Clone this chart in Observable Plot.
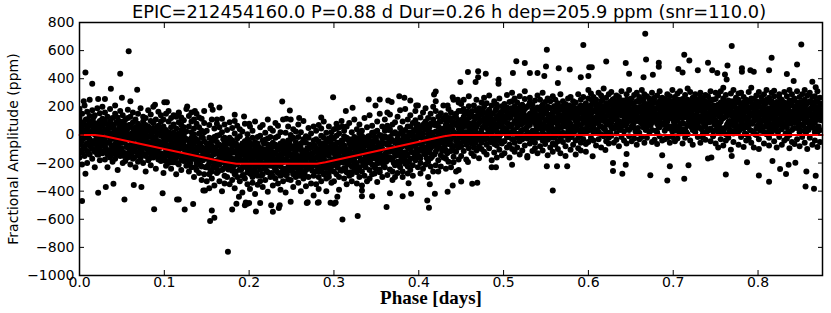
<!DOCTYPE html>
<html><head><meta charset="utf-8">
<script src="https://cdn.jsdelivr.net/npm/d3@7"></script>
<script src="https://cdn.jsdelivr.net/npm/@observablehq/plot@0.6"></script>
<style>body{margin:0;background:#fff}</style>
</head><body><div id="chart"></div>
<script>
const titleText = "EPIC=212454160.0 P=0.88 d Dur=0.26 h dep=205.9 ppm (snr=110.0)";
const xLabel = "Phase [days]";
const yLabel = "Fractional Amplitude (ppm)";
const xTicks = [0, 0.1, 0.2, 0.3, 0.4, 0.5, 0.6, 0.7, 0.8];
const yTicks = [-1000, -800, -600, -400, -200, 0, 200, 400, 600, 800];

// transit model (red line)
const modelPhase = [0, 0.018, 0.03, 0.1, 0.17, 0.185, 0.28, 0.29, 0.43, 0.44, 0.876];
const modelAmp = [0, 0, -10, -100, -190, -205, -205, -194, -10, 0, 0];

// phase-folded photometry: each row = [phase, amplitudes at that phase...]
const seg0 = [
[0,-5,120,-160,40,-70,185,-110],[0.003,60,-40,150,-125,15,-210,90],[0.006,-90,30,210,-20,-150,75,5],
[0.009,110,-60,-5,165,-200,45,-115],[0.012,-30,80,-140,20,135,-75,250],[0.015,25,-170,95,-45,60,-100,175],
[0.018,-120,5,140,-65,85,-230,35],[0.021,70,-85,-15,190,-140,15,-55],[0.024,-45,155,50,-105,-180,100,0],
[0.027,15,-130,115,-35,65,-75,200],[0.03,-80,40,-175,105,-20,160,-120],[0.033,20,-55,130,-140,-5,75,-230],
[0.036,-110,95,-40,10,185,-160,50],[0.039,55,-20,-190,120,-85,0,-135],[0.042,-65,150,-100,30,-30,210,-170],
[0.045,85,-140,15,-75,125,-45,-250],[0.048,-150,60,-10,170,-95,25,95],[0.051,0,-200,80,-55,140,-120,35],
[0.054,-40,110,-130,5,65,-15,-185],[0.057,120,-75,45,-160,-25,180,-90],[0.06,-20,-150,70,-95,130,-210,5],
[0.063,-110,45,-40,160,-170,-65,90],[0.066,25,-120,-230,55,-10,110,-75],[0.069,-85,150,-30,-140,80,-5,-190],
[0.072,60,-60,-165,15,190,-110,-25],[0.075,-135,95,-10,-200,40,-55,130],[0.078,5,-90,120,-45,-150,70,-260],
[0.081,-50,175,-120,30,-75,-180,60],[0.084,100,-15,-95,145,-215,0,-135],[0.087,-160,50,-40,-105,85,200,-70],
[0.09,20,-125,110,-20,-65,-240,35],[0.093,-95,65,165,-150,10,-45,-175],[0.096,40,-185,-5,95,-130,140,-80],
[0.099,-60,60,-180,-15,110,-140,-270],[0.102,35,-105,-40,150,-220,-75,5],[0.105,-150,0,95,-90,-30,170,-200],
[0.108,-20,-170,55,-240,120,-110,-55],[0.111,75,-85,-135,15,-10,-195,140],[0.114,-115,130,-50,-160,45,-5,-280],
[0.117,10,-60,-210,90,160,-130,-35],[0.12,-175,35,-95,-20,125,-250,70],[0.123,55,-140,0,-75,-185,105,-45],
[0.126,-90,185,-120,25,-30,-160,-220],[0.129,-40,-190,60,-110,135,-260,-75],[0.132,20,-155,-80,95,-230,-20,160],
[0.135,-125,45,-300,-60,5,-170,110],[0.138,-200,80,-35,-145,-95,150,-250],[0.141,10,-110,-270,55,-60,-180,125],
[0.144,-85,115,-150,-15,-225,30,-320],[0.147,-160,20,85,-120,-45,-280,170]
];
const seg1 = [
[0.15,-95,-230,30,-170,-330,-60,-140],[0.153,-200,-20,-280,70,-150,-110,-380],[0.156,-45,-175,-110,-260,110,-310,-80],
[0.159,-135,45,-220,-90,-360,-15,-190],[0.162,-270,-130,80,-50,-180,-240,-5],[0.165,0,-210,-155,-330,-70,55,-120],
[0.168,-185,-95,-400,20,-150,-250,115],[0.171,-60,-290,-130,-20,75,-200,-345],[0.174,-230,35,-175,-105,-300,-40,-160],
[0.177,-110,-350,-60,90,-215,-140,-20],[0.18,-40,-170,-255,-85,50,-320,-125],[0.183,-195,10,-120,-280,-65,-380,100],
[0.186,-300,-135,-25,-210,65,-100,-175],[0.189,-80,-245,40,-160,-330,-120,-10],[0.192,-230,-60,-185,-410,25,-140,-290],
[0.195,-135,-310,-45,-220,80,-95,-175],[0.198,5,-200,-350,-110,-265,-30,-160],[0.201,-275,-90,-150,60,-225,-385,-55],
[0.204,-160,30,-300,-125,-205,-20,-340],[0.207,-50,-235,-100,-420,-150,95,-260],[0.21,-210,-120,-15,-290,-60,-185,-355],
[0.213,-330,-5,-175,-95,-250,55,-140],[0.216,-100,-280,70,-210,-145,-370,-40],[0.219,-240,-165,-35,-320,15,-115,-200],
[0.222,-25,-130,-265,-190,-405,-70,110],[0.225,-180,45,-110,-300,-220,-15,-145],[0.228,-295,-85,-200,30,-155,-360,-55],
[0.231,-70,-250,-130,-20,-310,-175,85],[0.234,-215,-10,-345,-105,-160,65,-270],[0.237,-140,-290,20,-225,-60,-390,-180],
[0.24,-45,-195,-120,-330,110,-240,-90],[0.243,-260,-70,-175,15,-285,-135,-410],[0.246,-115,60,-230,-150,-40,-315,-200],
[0.249,-320,-135,0,-255,-95,-185,-30],[0.252,-20,-210,-370,-80,-165,40,-280],[0.255,-190,-50,-125,-300,25,-230,-110],
[0.258,-85,-340,-210,-15,-150,-260,75],[0.261,-245,20,-95,-185,-400,-60,-165],[0.264,-130,-270,-30,100,-220,-140,-310],
[0.267,-10,-175,-250,-115,-55,-365,-200],[0.27,-300,-100,50,-230,-160,-20,-135],[0.273,-155,-240,-75,-345,10,-190,-90],
[0.276,-40,-125,-290,-180,-430,60,-215],[0.279,-220,-30,-160,-95,-260,30,-350],[0.282,-110,-300,70,-200,-145,-45,-385],
[0.285,-5,-180,-250,-120,45,-330,-75],[0.288,-280,-60,-140,-215,-20,-165,95],[0.291,-130,15,-310,-90,-235,-400,-50],
[0.294,-190,-270,-25,60,-150,-105,-300],[0.297,-60,-225,-120,-340,-15,-185,20]
];
const seg2 = [
[0.3,-260,-90,40,-180,-330,-130,-25],[0.303,-120,-220,-60,80,-280,-175,-5],[0.306,10,-150,-300,-95,-200,55,-390],
[0.309,-190,-40,-115,-255,100,-160,-70],[0.312,-75,-310,-170,-10,-235,-130,30],[0.315,-145,60,-265,-100,-20,-350,-200],
[0.318,-290,-110,-30,-190,85,-60,-160],[0.321,-35,-225,-135,-280,-80,20,-330],[0.324,-170,-15,-95,110,-250,-195,-55],
[0.327,-90,-345,-200,-45,-140,40,-265],[0.33,-230,-40,75,-150,-300,-100,10],[0.333,-60,-185,-260,30,-110,-360,-5],
[0.336,120,-130,-45,-220,-80,-290,-170],[0.339,-195,-20,-120,55,-330,-150,-70],[0.342,-10,-250,-95,-175,140,-40,-310],
[0.345,-145,65,-210,-60,-280,-115,15],[0.348,-275,-85,20,-135,-15,-230,-165],[0.351,-50,-200,-335,95,-105,-160,30],
[0.354,-180,0,-70,-245,-130,150,-265],[0.357,-100,-300,-155,-25,60,-200,-55],[0.36,30,-140,-230,-60,110,-190,-10],
[0.363,-180,-20,65,-285,-110,-70,160],[0.366,-50,145,-160,-15,-245,40,-120],[0.369,-260,-95,10,-175,75,-40,-320],
[0.372,90,-130,-215,-55,20,-300,-150],[0.375,-25,-190,130,-95,-270,5,-65],[0.378,-145,50,-40,-230,-110,175,-195],
[0.381,15,-260,-80,95,-155,-35,-300],[0.384,-205,-60,185,-125,35,-180,-10],[0.387,-90,110,-275,-20,-140,60,-225],
[0.39,60,-170,-45,140,-250,-90,15],[0.393,-125,20,-215,85,-10,-290,-70],[0.396,105,-80,30,-180,170,-130,-35],
[0.399,-20,-230,75,-60,-150,0,210],[0.402,-165,45,-100,125,-275,-15,-200],[0.405,10,-115,160,-50,70,-240,-85],
[0.408,-210,95,-25,-140,40,190,-110],[0.411,65,-60,-190,5,-300,120,-35],[0.414,-95,150,20,-165,-45,-225,80],
[0.417,-30,-140,200,-75,110,-10,-260],[0.42,80,-120,25,-215,170,-50,240],[0.423,-85,130,-20,60,-180,10,-260],
[0.426,155,-40,-145,95,0,-225,45],[0.429,-10,210,-95,-55,120,-160,20],[0.432,-170,50,140,-110,-30,75,-240],
[0.435,35,-65,-190,185,5,-120,100],[0.438,-115,115,60,-30,-230,160,-70],[0.441,90,-155,20,250,-80,-10,-195],
[0.444,-45,70,-120,10,150,-260,125],[0.447,170,-25,45,-175,95,-90,230]
];
const seg3 = [
[0.45,40,-80,170,-10,220,-150,95],[0.453,130,-45,60,250,-115,15,185],[0.456,-70,100,20,-175,155,70,-20],
[0.459,205,-5,120,-95,55,275,-40],[0.462,-130,80,165,25,-60,140,10],[0.465,90,-25,-150,210,45,-90,130],
[0.468,15,175,70,-40,250,-110,55],[0.471,-80,120,5,190,-165,85,160],[0.474,145,-55,230,35,-100,10,100],
[0.477,60,200,-120,115,0,-35,265],[0.48,-15,75,150,-140,95,225,-70],[0.483,180,-95,40,125,-30,280,20],
[0.486,-50,155,-180,65,210,5,110],[0.489,110,-20,85,240,-125,50,-65],[0.492,25,190,-75,135,70,-160,215],
[0.495,-105,60,145,-10,260,100,-40],[0.498,165,-60,20,205,-145,80,130],[0.501,50,220,-45,130,-130,175,95],
[0.504,160,-15,85,285,30,-90,195],[0.507,-70,120,10,235,145,-160,60],[0.51,240,75,-100,180,20,300,-30],
[0.513,15,150,260,-55,100,-120,205],[0.516,120,-90,55,170,-20,230,80],[0.519,-140,195,95,5,275,140,-45],
[0.522,80,-30,215,125,-110,35,165],[0.525,185,40,-75,255,110,-5,310],[0.528,-25,135,60,-150,200,90,20],
[0.531,230,-60,150,70,-10,265,115],[0.534,100,180,-115,30,140,-40,215],[0.537,-55,85,245,160,-95,15,125],
[0.54,195,5,110,-20,280,65,-130],[0.543,45,250,-80,120,175,-15,90],[0.546,140,-110,70,215,25,300,-40],
[0.549,-5,165,235,-65,105,185,50],[0.552,260,60,-35,145,0,-145,200],[0.555,75,-90,190,110,240,35,-20],
[0.558,-120,130,20,275,85,160,-60],[0.561,170,40,-70,205,120,-10,250],[0.564,10,225,95,-100,155,70,-45],
[0.567,115,-25,180,55,290,-130,140],[0.57,205,85,-50,135,15,240,100],[0.573,-80,175,60,220,-5,120,-150],
[0.576,150,-35,260,90,190,25,65],[0.579,30,130,-105,175,80,270,-15],[0.582,240,10,145,55,-70,200,120],
[0.585,-40,190,100,-140,230,65,155],[0.588,125,290,-20,110,35,-95,185],[0.591,70,-55,210,160,5,250,-110],
[0.594,180,115,40,-30,270,140,85],[0.597,-65,225,155,20,95,-120,200]
];
const seg4 = [
[0.6,120,260,30,185,-50,150,320],[0.603,210,70,145,-20,295,95,175],[0.606,-40,165,230,110,15,270,60],
[0.609,250,125,-75,200,85,35,180],[0.612,90,300,155,20,-30,215,130],[0.615,175,5,240,140,60,-90,280],
[0.618,-10,205,100,330,170,45,120],[0.621,265,80,185,-45,135,225,15],[0.624,140,-20,290,95,210,160,-60],
[0.627,55,235,120,175,-5,305,85],[0.63,195,110,-55,255,45,150,215],[0.633,10,280,165,70,230,-35,125],
[0.636,245,40,100,190,-80,270,155],[0.639,85,195,310,-15,140,60,220],[0.642,160,-40,75,240,105,185,25],
[0.645,290,130,200,-60,170,80,250],[0.648,35,215,145,100,320,-10,185],[0.651,180,60,260,135,-45,225,105],
[0.654,-25,170,90,285,150,50,205],[0.657,240,115,-70,185,30,300,140],[0.66,125,270,195,15,235,95,-30],
[0.663,200,-15,155,320,80,175,255],[0.666,65,225,110,180,-55,140,290],[0.669,275,130,40,215,160,-20,95],
[0.672,15,195,260,120,250,70,175],[0.675,150,-50,205,90,300,185,35],[0.678,230,105,145,-35,170,265,120],
[0.681,80,280,20,190,130,225,-65],[0.684,185,55,240,155,-10,310,100],[0.687,-40,210,125,265,75,145,200],
[0.69,255,135,175,30,220,-30,160],[0.693,110,-20,290,195,95,245,60],[0.696,200,165,45,-55,275,120,185],
[0.699,25,240,150,215,130,320,-15],[0.702,170,90,220,60,-45,180,270],[0.705,295,140,-25,235,105,55,195],
[0.708,75,200,165,10,310,145,230],[0.711,150,-60,255,120,190,85,20],[0.714,225,175,40,285,-20,210,130],
[0.717,5,250,120,160,240,65,330],[0.72,190,100,305,-40,145,215,75],[0.723,120,265,80,200,35,-70,180],
[0.726,260,20,185,140,290,110,230],[0.729,-15,215,135,245,75,170,55],[0.732,175,300,50,-55,205,130,270],
[0.735,90,145,230,185,10,260,-20],[0.738,240,60,160,115,285,-35,200],[0.741,30,195,275,140,90,225,150],
[0.744,165,-45,110,310,180,45,245],[0.747,210,130,-10,170,250,95,25]
];
const seg5 = [
[0.75,100,255,-60,180,35,145,300],[0.753,215,15,140,280,-90,195,75],[0.756,-30,170,230,95,310,50,150],
[0.759,260,120,20,-75,205,165,335],[0.762,55,235,185,130,5,285,-40],[0.765,180,-20,90,245,150,60,215],
[0.768,295,140,-105,200,85,175,30],[0.771,10,220,160,65,320,-50,125],[0.774,190,80,265,135,40,230,105],
[0.777,-70,155,25,295,185,115,250],[0.78,140,300,195,-15,95,220,60],[0.783,230,45,120,175,-85,270,150],
[0.786,65,250,-40,110,215,5,185],[0.789,175,125,305,70,160,240,-25],[0.792,-55,200,145,260,30,90,335],
[0.795,255,100,20,185,130,-90,215],[0.798,110,280,170,45,240,150,0],[0.801,200,-30,230,125,-100,305,80],
[0.804,35,165,95,270,195,60,145],[0.807,290,115,-60,210,155,20,240],[0.81,120,250,180,5,85,320,160],
[0.813,-20,140,265,190,45,-75,105],[0.816,225,70,130,300,160,240,15],[0.819,150,315,-45,95,205,120,275],
[0.822,60,185,235,145,-90,30,195],[0.825,270,-15,160,220,110,290,75],[0.828,185,100,40,-70,250,135,205],
[0.831,-40,230,305,155,65,180,120],[0.834,135,55,190,275,-25,215,90],[0.837,245,160,0,125,320,-95,170],
[0.84,90,290,210,35,150,245,-50],[0.843,170,-65,120,200,85,260,140],[0.846,310,145,230,-30,185,50,95],
[0.849,20,215,165,270,115,195,-80],[0.852,195,75,290,140,-15,235,180],[0.855,-55,250,100,205,150,30,320],
[0.858,225,130,45,175,280,-100,90],[0.861,140,300,-20,240,65,185,155],[0.864,60,190,215,105,-70,270,130],
[0.867,275,-40,160,85,230,140,20],[0.87,170,240,110,310,15,-85,195],[0.873,35,125,265,180,145,220,-50]
];
// denser core of the cloud, between the rows above
const fill0 = [
[0.0015,-60,45,-120],[0.0045,30,-95,80],[0.0075,-20,110,-70],[0.0105,65,-130,-5],[0.0135,-85,20,95],
[0.0165,10,-55,125],[0.0195,-105,70,-30],[0.0225,40,-10,-140],[0.0255,-70,100,15],[0.0285,85,-115,-40],
[0.0315,-100,35,-55],[0.0345,55,-130,5],[0.0375,-75,80,-15],[0.0405,20,-110,65],[0.0435,-140,-5,90],
[0.0465,45,-60,-120],[0.0495,-25,75,-95],[0.0525,95,-45,-150],[0.0555,-85,15,50],[0.0585,-10,-125,70],
[0.0615,-130,10,-45],[0.0645,25,-95,-160],[0.0675,-70,40,-20],[0.0705,-150,-35,50],[0.0735,5,-110,-75],
[0.0765,-40,60,-140],[0.0795,-100,-15,30],[0.0825,45,-165,-55],[0.0855,-80,15,-125],[0.0885,-20,-145,35],
[0.0915,-115,55,-65],[0.0945,10,-90,-170],[0.0975,-50,25,-135],[0.1005,-160,-30,-85],[0.1035,-10,-125,-190],
[0.1065,-75,15,-140],[0.1095,-195,-55,0],[0.1125,-110,-20,-165],[0.1155,5,-80,-200],[0.1185,-140,-45,-95],
[0.1215,-60,-180,10],[0.1245,-120,-25,-175],[0.1275,-35,-150,-90],[0.1305,-200,-75,-145],[0.1335,-50,-170,-100],
[0.1365,-135,-25,-230],[0.1395,-90,-190,-40],[0.1425,-165,-60,-215],[0.1455,-20,-120,-180],[0.1485,-230,-95,-150]
];
const fill1 = [
[0.1515,-110,-220,-60],[0.1545,-175,-80,-255],[0.1575,-40,-140,-230],[0.1605,-200,-100,-15],[0.1635,-130,-260,-70],
[0.1665,-85,-195,-150],[0.1695,-240,-30,-120],[0.1725,-165,-90,-210],[0.1755,-55,-245,-135],[0.1785,-190,-110,-35],
[0.1815,-125,-225,-75],[0.1845,-260,-60,-170],[0.1875,-95,-185,-140],[0.1905,-140,-250,-80],[0.1935,-205,-110,-285],
[0.1965,-60,-170,-230],[0.1995,-240,-130,-95],[0.2025,-115,-280,-175],[0.2055,-190,-70,-250],[0.2085,-275,-150,-100],
[0.2115,-85,-220,-160],[0.2145,-200,-120,-290],[0.2175,-140,-60,-225],[0.2205,-255,-175,-105],[0.2235,-90,-210,-150],
[0.2265,-165,-270,-70],[0.2295,-230,-125,-195],[0.2325,-80,-185,-260],[0.2355,-195,-100,-145],[0.2385,-265,-160,-75],
[0.2415,-120,-240,-180],[0.2445,-185,-90,-280],[0.2475,-60,-215,-135],[0.2505,-245,-150,-95],[0.2535,-130,-270,-200],
[0.2565,-210,-80,-160],[0.2595,-100,-235,-290],[0.2625,-175,-125,-55],[0.2655,-280,-190,-115],[0.2685,-95,-160,-240],
[0.2715,-215,-70,-145],[0.2745,-130,-255,-190],[0.2775,-75,-200,-120],[0.2805,-225,-100,-160],[0.2835,-60,-190,-260],
[0.2865,-150,-230,-90],[0.2895,-270,-120,-185],[0.2925,-85,-215,-140],[0.2955,-190,-50,-250],[0.2985,-120,-175,-80]
];
const fill2 = [
[0.3015,-200,-90,-160],[0.3045,-55,-230,-130],[0.3075,-175,-110,-250],[0.3105,-80,-195,-40],[0.3135,-240,-140,-100],
[0.3165,-120,-35,-210],[0.3195,-185,-95,-265],[0.3225,-60,-170,-135],[0.3255,-225,-115,-75],[0.3285,-150,-250,-25],
[0.3315,-70,-180,-130],[0.3345,-210,-95,-20],[0.3375,-150,-55,-230],[0.3405,-10,-135,-195],[0.3435,-175,-80,-110],
[0.3465,-45,-215,-160],[0.3495,-125,-25,-240],[0.3525,-200,-145,-70],[0.3555,-90,-185,-5],[0.3585,-160,-60,-215],
[0.3615,-130,-20,-190],[0.3645,-55,-160,35],[0.3675,-175,-90,-30],[0.3705,10,-120,-200],[0.3735,-145,-45,-95],
[0.3765,-210,5,-110],[0.3795,-70,-165,20],[0.3825,-125,-10,-185],[0.3855,-35,-145,-75],[0.3885,-190,-100,15],
[0.3915,-5,-120,-80],[0.3945,-160,35,-45],[0.3975,-100,-20,60],[0.4005,25,-150,-110],[0.4035,-70,50,-15],
[0.4065,-135,-40,80],[0.4095,40,-90,-165],[0.4125,-25,-125,55],[0.4155,-155,5,-80],[0.4185,70,-60,-140],
[0.4215,-40,70,-100],[0.4245,95,-60,15],[0.4275,-115,30,-35],[0.4305,50,-85,110],[0.4335,-20,-130,65],
[0.4365,120,-50,-10],[0.4395,-90,40,85],[0.4425,10,-115,130],[0.4455,75,-30,-70],[0.4485,-60,105,25]
];
const fill3 = [
[0.4515,110,-20,65],[0.4545,-45,150,20],[0.4575,85,0,165],[0.4605,-10,130,45],[0.4635,170,60,-40],
[0.4665,25,-55,115],[0.4695,140,75,-15],[0.4725,-35,95,160],[0.4755,55,175,-5],[0.4785,120,-30,80],
[0.4815,10,165,40],[0.4845,-50,90,135],[0.4875,150,30,-25],[0.4905,70,-40,175],[0.4935,-15,125,60],
[0.4965,160,5,100],[0.4995,40,135,-45],[0.5025,120,20,185],[0.5055,-15,155,80],[0.5085,190,60,130],
[0.5115,35,-30,170],[0.5145,140,95,10],[0.5175,-10,180,115],[0.5205,75,200,25],[0.5235,160,-20,100],
[0.5265,45,130,195],[0.5295,210,85,0],[0.5325,15,150,120],[0.5355,100,-15,175],[0.5385,185,65,35],
[0.5415,-5,140,95],[0.5445,125,200,50],[0.5475,70,5,160],[0.5505,170,110,-25],[0.5535,30,195,85],
[0.5565,145,55,125],[0.5595,-20,100,205],[0.5625,90,175,40],[0.5655,200,15,135],[0.5685,55,120,-10],
[0.5715,165,80,190],[0.5745,0,145,100],[0.5775,115,210,30],[0.5805,185,60,-15],[0.5835,25,135,170],
[0.5865,150,90,45],[0.5895,-5,195,115],[0.5925,120,40,180],[0.5955,205,100,10],[0.5985,60,165,130]
];
const fill4 = [
[0.6015,90,200,150],[0.6045,240,45,120],[0.6075,175,95,230],[0.6105,30,160,200],[0.6135,210,120,60],
[0.6165,110,250,165],[0.6195,185,40,135],[0.6225,75,215,100],[0.6255,235,140,20],[0.6285,120,180,250],
[0.6315,55,225,160],[0.6345,195,95,140],[0.6375,150,35,215],[0.6405,245,170,85],[0.6435,65,125,200],
[0.6465,180,230,40],[0.6495,105,155,255],[0.6525,220,70,130],[0.6555,140,195,25],[0.6585,50,240,170],
[0.6615,175,115,90],[0.6645,250,165,55],[0.6675,100,35,210],[0.6705,215,145,185],[0.6735,70,230,120],
[0.6765,160,95,245],[0.6795,30,185,140],[0.6825,225,110,65],[0.6855,130,250,175],[0.6885,85,160,220],
[0.6915,200,45,110],[0.6945,145,235,60],[0.6975,60,120,190],[0.7005,240,175,95],[0.7035,110,30,215],
[0.7065,185,140,250],[0.7095,40,220,125],[0.7125,165,80,180],[0.7155,230,145,20],[0.7185,95,200,160],
[0.7215,155,55,240],[0.7245,210,120,75],[0.7275,50,185,145],[0.7305,245,100,195],[0.7335,120,225,40],
[0.7365,180,65,135],[0.7395,25,155,230],[0.7425,200,115,90],[0.7455,135,250,165],[0.7485,75,185,110]
];
const fill5 = [
[0.7515,160,40,210],[0.7545,85,185,130],[0.7575,230,115,20],[0.7605,45,165,235],[0.7635,140,75,195],
[0.7665,210,25,100],[0.7695,95,240,150],[0.7725,15,130,205],[0.7755,175,60,110],[0.7785,225,145,35],
[0.7815,80,200,160],[0.7845,130,10,225],[0.7875,190,95,55],[0.7905,35,155,240],[0.7935,150,215,80],
[0.7965,5,120,175],[0.7995,205,65,140],[0.8025,100,235,30],[0.8055,165,45,190],[0.8085,60,145,220],
[0.8115,235,100,15],[0.8145,120,180,70],[0.8175,40,215,155],[0.8205,185,90,125],[0.8235,225,20,165],
[0.8265,75,150,240],[0.8295,140,60,200],[0.8325,210,135,10],[0.8355,25,195,115],[0.8385,160,80,230],
[0.8415,105,245,45],[0.8445,195,120,160],[0.8475,55,175,90],[0.8505,230,30,140],[0.8535,120,205,65],
[0.8565,15,150,215],[0.8595,170,95,35],[0.8625,85,235,185],[0.8655,200,125,50],[0.8685,45,165,240],
[0.8715,145,60,110],[0.8745,220,105,175]
];
// isolated points read individually: [phase, amplitude]
const outliers = [
[0.003,-470],[0.005,240],[0.007,445],[0.007,-276],[0.015,364],[0.022,255],[0.022,-411],[0.03,255],[0.031,-371],
[0.037,328],[0.04,-347],[0.048,435],[0.05,264],[0.053,-459],[0.058,596],[0.06,240],[0.064,-357],[0.068,321],
[0.073,-371],[0.088,-528],[0.089,215],[0.098,-414],[0.1,233],[0.103,233],[0.115,-460],[0.117,-460],[0.117,155],
[0.124,-530],[0.127,203],[0.134,-492],[0.136,170],[0.146,-395],[0.148,-395],[0.154,-613],[0.155,210],[0.156,-537],
[0.157,180],[0.159,-589],[0.162,110],[0.165,195],[0.175,-831],[0.18,-530],[0.183,143],[0.185,-490],[0.188,-440],
[0.194,131],[0.195,-500],[0.196,-480],[0.198,-490],[0.2,80],[0.2,-485],[0.208,-544],[0.213,-485],[0.226,-500],
[0.228,-546],[0.235,-520],[0.236,-500],[0.239,238],[0.244,115],[0.248,174],[0.249,-475],[0.249,110],[0.259,120],
[0.268,-485],[0.269,-478],[0.281,-483],[0.282,-478],[0.285,125],[0.296,-483],[0.299,269],[0.3,-490],[0.302,-480],
[0.303,46],[0.304,-440],[0.31,-601],[0.31,60],[0.314,170],[0.322,193],[0.328,-577],[0.333,-395],[0.333,-437],
[0.341,252],[0.345,-437],[0.349,210],[0.354,252],[0.362,-513],[0.364,245],[0.366,-414],[0.368,235],[0.377,276],
[0.381,-437],[0.383,264],[0.388,-343],[0.39,245],[0.391,-418],[0.397,210],[0.41,-466],[0.412,-518],[0.413,-350],
[0.418,288],[0.419,-418],[0.42,309],[0.434,210],[0.434,-405],[0.44,269],[0.44,-359],[0.446,250],[0.447,-250],
[0.449,376],[0.45,-331],[0.458,447],[0.458,-193],[0.463,-347],[0.467,376],[0.469,-340],[0.47,454],[0.47,410],
[0.479,435],[0.486,-229],[0.491,-229],[0.494,393],[0.494,365],[0.51,-212],[0.511,440],[0.515,525],[0.525,511],
[0.528,-160],[0.531,440],[0.54,440],[0.548,420],[0.55,487],[0.551,606],[0.551,-222],[0.558,-395],[0.563,-222],
[0.564,370],[0.565,475],[0.575,-222],[0.578,465],[0.591,410],[0.594,640],[0.6,420],[0.601,482],[0.604,482],
[0.605,-151],[0.62,-107],[0.621,523],[0.629,-200],[0.629,-257],[0.64,-276],[0.644,511],[0.644,-212],[0.645,-135],
[0.648,435],[0.665,410],[0.667,720],[0.668,537],[0.673,-286],[0.676,428],[0.683,514],[0.683,485],[0.687,-145],
[0.693,-324],[0.696,-222],[0.706,470],[0.711,445],[0.713,570],[0.713,-312],[0.718,-215],[0.719,530],[0.729,460],
[0.741,514],[0.741,-168],[0.745,-160],[0.746,460],[0.752,440],[0.761,430],[0.762,-281],[0.763,395],[0.764,494],
[0.769,632],[0.769,-150],[0.781,475],[0.781,450],[0.787,-195],[0.791,460],[0.795,450],[0.801,-288],[0.813,460],
[0.813,-333],[0.816,549],[0.817,-185],[0.826,-243],[0.833,-278],[0.834,433],[0.836,-212],[0.842,383],[0.844,-197],
[0.846,501],[0.851,644],[0.856,-366],[0.857,-260],[0.864,378],[0.866,-383],[0.868,340],[0.868,-290]
];

const points = [];
for (const seg of [seg0, seg1, seg2, seg3, seg4, seg5, fill0, fill1, fill2, fill3, fill4, fill5]) {
  for (const row of seg) {
    const [p, ...vals] = row;
    for (const v of vals) points.push({phase: p, amp: v});
  }
}
for (const [p, v] of outliers) points.push({phase: p, amp: v});
const model = modelPhase.map((p, i) => ({phase: p, amp: modelAmp[i]}));

const chart = Plot.plot({
  width: 831, height: 313,
  marginLeft: 79, marginRight: 9, marginTop: 22, marginBottom: 38,
  style: {fontFamily: "'DejaVu Sans'", fontSize: "14px", background: "white", color: "black"},
  x: {domain: [0, 0.876]},
  y: {domain: [-1000, 800]},
  marks: [
    Plot.dot(points, {x: "phase", y: "amp", r: 3, fill: "black", clip: true}),
    Plot.line(model, {x: "phase", y: "amp", stroke: "#ff0000", strokeWidth: 2}),
    Plot.frame({stroke: "black", strokeWidth: 1.5}),
    Plot.axisX({ticks: xTicks, anchor: "bottom", tickSize: 0, tickPadding: 2, tickFormat: d3.format(".1f"), label: null}),
    Plot.axisY({ticks: yTicks, anchor: "left", tickSize: 0, tickPadding: 5, tickFormat: d3.format("d"), label: null}),
    Plot.axisX({ticks: xTicks, anchor: "bottom", tickSize: -5, tickFormat: () => "", label: null}),
    Plot.axisX({ticks: xTicks, anchor: "top", tickSize: -5, tickFormat: () => "", label: null}),
    Plot.axisY({ticks: yTicks, anchor: "left", tickSize: -5, tickFormat: () => "", label: null}),
    Plot.axisY({ticks: yTicks, anchor: "right", tickSize: -5, tickFormat: () => "", label: null}),
    Plot.text([titleText], {frameAnchor: "top", lineAnchor: "bottom", dy: -5, dx: -2, fontSize: 17.8}),
    Plot.text([xLabel], {frameAnchor: "bottom", lineAnchor: "bottom", dy: 28, dx: -20, fontSize: 19, fontWeight: "bold", fontFamily: "'Liberation Serif'"}),
    Plot.text([yLabel], {frameAnchor: "left", rotate: -90, textAnchor: "middle", lineAnchor: "bottom", dx: -62, fontSize: 14})
  ]
});
document.getElementById("chart").appendChild(chart);
</script>
</body></html>
